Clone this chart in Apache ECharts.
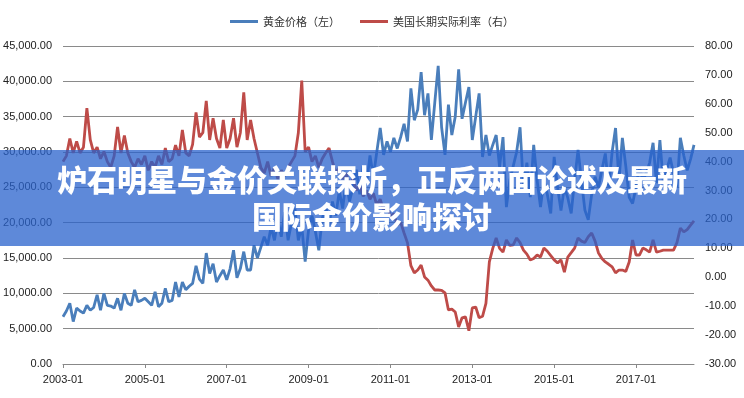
<!DOCTYPE html>
<html>
<head>
<meta charset="utf-8">
<script src="https://cdn.jsdelivr.net/npm/echarts@6/dist/echarts.min.js"></script>
<style>
  html, body { margin: 0; padding: 0; background: #fff; }
  #chart { width: 744px; height: 398px; }
</style>
</head>
<body>
<div id="chart"></div>
<script>
// 黄金价格（左轴），2003-01 起每月一个值
var goldPrice = [
    6700, 7500, 8600, 6000, 7900, 7500, 7200, 8300, 7600, 8000, 9800, 7600,
    10000, 8300, 8200, 7900, 9300, 7600, 10000, 8600, 8300, 10500, 8800, 9000,
    9300, 8800, 8300, 10200, 8100, 8600, 10700, 8800, 9000, 11600, 9500, 11600,
    10500, 11000, 11400, 13900, 12000, 11400, 15700, 12800, 14200, 11600, 12500, 13300,
    11900, 13500, 16100, 12200, 13500, 15900, 13300, 13300, 16800, 15000, 16500, 18000,
    16800, 19400, 17500, 20500, 18000, 21500, 17500, 20000, 22000, 17500, 19500, 14500,
    19000, 21000, 18700, 16100, 20500, 22500, 19500, 23000, 21000, 24500, 22000, 26000,
    23000, 25000, 27500, 24000, 28000, 25500, 29500, 26500, 30000, 33400, 29600, 31500,
    30000, 32000, 30500, 32100, 34000, 31500, 39000, 34500, 36000, 41300, 35200, 38300,
    31700, 37000, 42200, 33500, 29600, 36700, 32400, 35000, 41700, 34700, 37000, 39200,
    31700, 35000, 38300, 29300, 32400, 29500, 31000, 32400, 27900, 32100, 22200, 26000,
    28000, 30000, 33500, 25000, 28500, 23600, 31000, 26000, 22200, 26000, 24000, 21300,
    29300, 25000, 21700, 25000, 23500, 21300, 26000, 30300, 26000, 21800, 20400, 24000,
    26500, 25000, 27500, 29800, 25000, 30000, 33400, 26000, 32000, 28000, 23600, 22700,
    25000, 27900, 26000, 27000, 28500, 31300, 25600, 31700, 25600, 27500, 29200, 27000,
    25000, 32000, 29500, 27400, 29000, 31000
];

// 美国长期实际利率（右轴）
var realRate = [
    40, 42, 48, 43, 47, 43, 45, 58.5, 47.5, 43, 45, 41,
    43.5, 40, 38, 42, 52, 43, 49, 43, 40, 38, 41, 39,
    42, 37, 40, 38, 42, 39, 44.7, 40, 41, 45.7, 42, 51,
    43, 42, 46, 57, 48.5, 50, 61, 47.5, 55, 48, 44.7, 54.4,
    44.7, 48, 55, 45, 50, 64, 47.5, 54.4, 48, 43, 38, 36,
    40, 35, 38, 34, 37, 35, 38, 40, 42, 50, 68, 43.4,
    45, 40, 42, 38, 41, 43, 44.7, 40, 36, 38, 34, 36,
    32, 34, 30, 32, 28, 30, 27, 29, 25, 27, 23, 25,
    21, 22, 18, 19, 15.3, 11.9, 4, 1.5, 2.5, 4.2, 0.1, -1,
    -3, -4.4, -4.4, -4.5, -5.4, -11.3, -11, -12, -17.2, -14, -13.7, -18.5,
    -10.6, -10.3, -14, -13.5, -9, 5.3, 10, 13.6, 10, 8.7, 12.9, 11,
    11.2, 13.6, 12, 9.4, 8, 6, 6.5, 7.7, 7, 10.1, 9, 7.5,
    6, 5, 6, 1.8, 7, 8.5, 10.1, 13.6, 12.5, 12, 14, 15.3,
    12.5, 8.4, 6.5, 5.3, 4.5, 3.6, 1.5, 2.5, 2.5, 2, 5.3, 12.9,
    7.7, 7.7, 10.1, 9.5, 8.7, 12.9, 8.7, 9, 9.4, 9.4, 9.4, 9.4,
    12, 17, 15.7, 16.5, 18, 19.5
];

var seriesNames = ['黄金价格（左）', '美国长期实际利率（右）'];
var titleLines = ['炉石明星与金价关联探析，正反两面论述及最新', '国际金价影响探讨'];

var months = [];
for (var i = 0; i < goldPrice.length; i++) {
    var y = 2003 + Math.floor(i / 12);
    var m = i % 12 + 1;
    months.push(y + '-' + (m < 10 ? '0' + m : m));
}

function fmt(v) {
    var neg = v < 0;
    var s = Math.abs(v).toFixed(2).split('.');
    s[0] = s[0].replace(/\B(?=(\d{3})+(?!\d))/g, ',');
    return (neg ? '-' : '') + s.join('.');
}

var labelFont = { fontFamily: 'Liberation Sans', fontSize: 11, color: '#222' };

var myChart = echarts.init(document.getElementById('chart'));
var option = {
    animation: false,
    backgroundColor: '#fff',
    legend: {
        top: 11,
        left: 'center',
        icon: 'rect',
        itemWidth: 28,
        itemHeight: 3,
        itemGap: 20,
        textStyle: { fontFamily: 'Noto Sans CJK SC', fontSize: 11, color: '#333' },
        data: seriesNames
    },
    grid: { left: 63, right: 50, top: 46, bottom: 34 },
    xAxis: {
        type: 'category',
        boundaryGap: false,
        data: months,
        axisLine: { lineStyle: { color: '#888' } },
        axisTick: { interval: 23, length: 4, lineStyle: { color: '#888' } },
        axisLabel: Object.assign({ interval: 23, margin: 10 }, labelFont)
    },
    yAxis: [{
        type: 'value',
        min: 0,
        max: 45000,
        interval: 5000,
        axisLine: { show: false },
        axisTick: { show: false },
        splitLine: { lineStyle: { color: '#8a8a8a', width: 1 } },
        axisLabel: Object.assign({ formatter: fmt, margin: 11 }, labelFont)
    }, {
        type: 'value',
        min: -30,
        max: 80,
        interval: 10,
        axisLine: { show: false },
        axisTick: { show: false },
        splitLine: { show: false },
        axisLabel: Object.assign({ formatter: fmt, margin: 11 }, labelFont)
    }],
    series: [{
        name: seriesNames[0],
        type: 'line',
        yAxisIndex: 0,
        showSymbol: false,
        lineStyle: { color: '#4A7EBB', width: 2.8 },
        itemStyle: { color: '#4A7EBB' },
        data: goldPrice
    }, {
        name: seriesNames[1],
        type: 'line',
        yAxisIndex: 1,
        showSymbol: false,
        lineStyle: { color: '#BE4B48', width: 2.8 },
        itemStyle: { color: '#BE4B48' },
        data: realRate
    }],
    graphic: [{
        type: 'rect',
        z: 100,
        shape: { x: 0, y: 150, width: 744, height: 96 },
        style: { fill: 'rgba(40,98,204,0.75)' }
    }, {
        type: 'text',
        z: 101,
        left: 'center',
        top: 165,
        style: {
            text: titleLines[0],
            fill: '#fff',
            font: '900 30px "Noto Sans CJK SC"',
            shadowColor: 'rgba(0,0,0,0.25)',
            shadowBlur: 2
        }
    }, {
        type: 'text',
        z: 101,
        left: 'center',
        top: 202,
        style: {
            text: titleLines[1],
            fill: '#fff',
            font: '900 30px "Noto Sans CJK SC"',
            shadowColor: 'rgba(0,0,0,0.25)',
            shadowBlur: 2
        }
    }]
};
myChart.setOption(option);
</script>
</body>
</html>
